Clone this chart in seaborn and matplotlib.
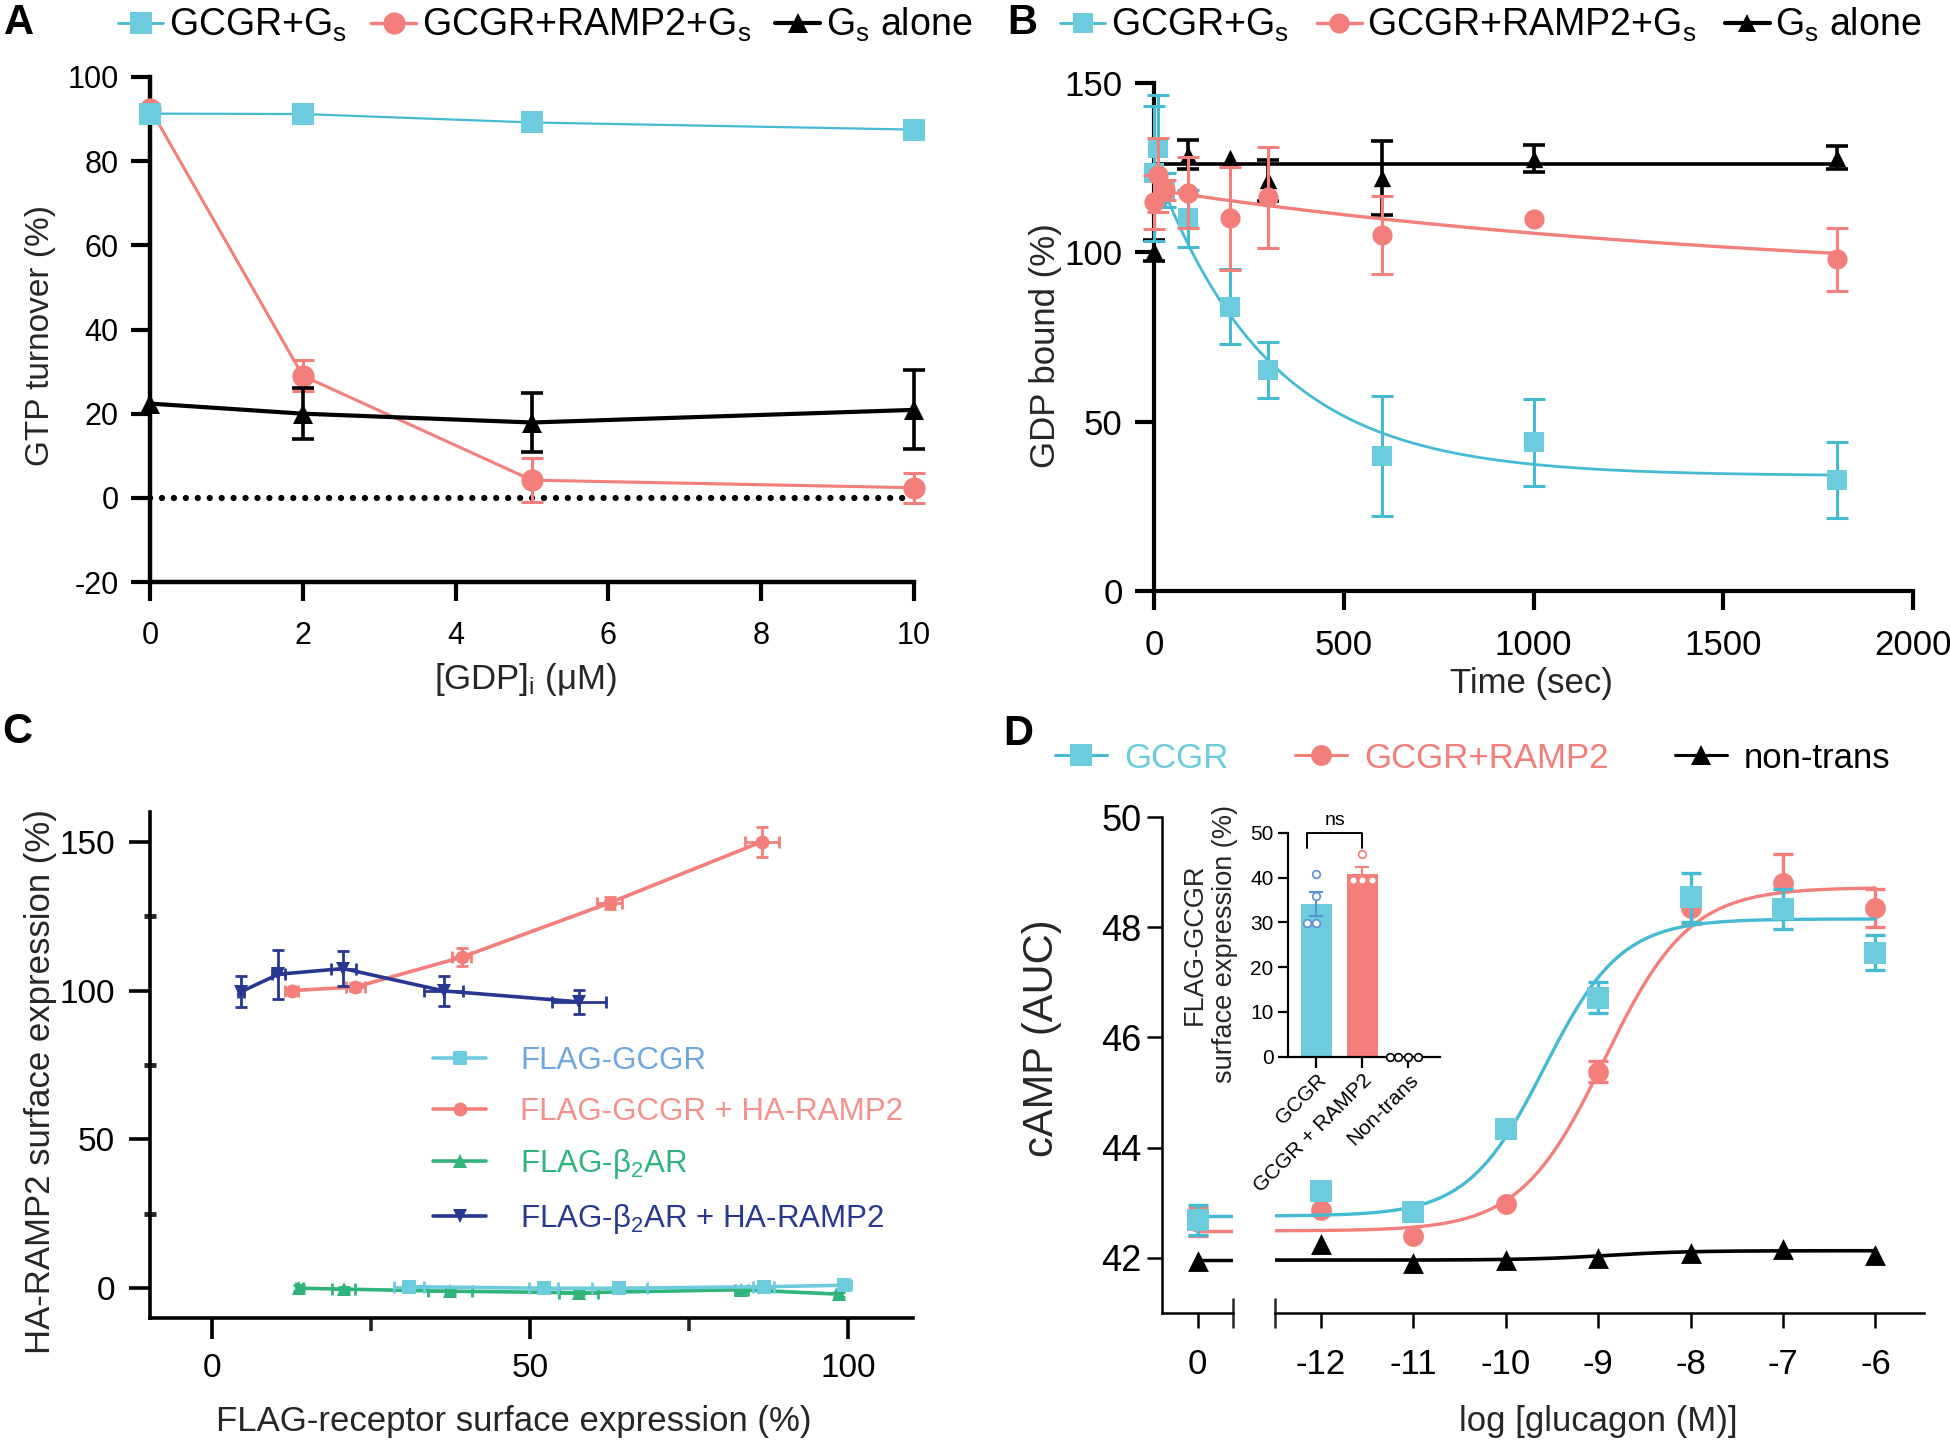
import numpy as np
import pandas as pd
import matplotlib
matplotlib.use('Agg')
import matplotlib.pyplot as plt
from matplotlib.lines import Line2D
from matplotlib import font_manager
import seaborn as sns

# ---------------- data ----------------
# Panel A : GTP turnover vs [GDP]i
gdp_conc = [0, 2, 5, 10]
a_gcgr = [91.3, 91.2, 89.2, 87.5]
a_ramp2 = [92.5, 29.0, 4.2, 2.4]
a_ramp2_err = [0.0, 3.7, 5.3, 3.6]
a_gs = [22.4, 20.0, 17.9, 20.9]
a_gs_err = [0.0, 6.0, 7.0, 9.4]

# Panel B : GDP bound vs time
b_time = [0, 10, 30, 90, 200, 300, 600, 1000, 1800]
b_gcgr = [123.3, 130.7, 118.4, 110.0, 84.0, 65.2, 39.8, 43.9, 32.8]
b_gcgr_err = [20.0, 15.7, 5.0, 8.3, 11.0, 8.2, 17.7, 12.9, 11.1]
b_ramp2 = [114.9, 122.8, 118.4, 117.6, 110.0, 116.2, 105.0, 109.8, 97.9]
b_ramp2_err = [8.0, 11.0, 3.0, 10.5, 15.3, 15.0, 11.5, 0.0, 9.2]
b_time_gs = [0, 90, 200, 300, 600, 1000, 1800]
b_gs = [100.5, 128.8, 127.8, 121.3, 122.0, 127.6, 128.0]
b_gs_err = [3.0, 4.3, 0.0, 6.0, 11.0, 4.0, 3.5]
# one-phase decay fits (Y0, plateau, k)
b_fit_gcgr = (126.0, 34.0, 0.0033)
b_fit_ramp2 = (118.5, 90.0, 0.0006)
b_fit_gs = (126.0, 126.0, 0.0)

# Panel C : HA-RAMP2 vs FLAG-receptor surface expression
c_gcgr_x = [30.9, 52.1, 64.0, 86.7, 99.4]
c_gcgr_y = [0.5, 0.0, 0.0, 0.5, 1.0]
c_gcgr_xerr = [2.4, 2.3, 4.3, 1.7, 1.0]
c_gcgr_yerr = [0.8, 0.8, 0.8, 0.8, 0.8]
c_ramp2_x = [12.5, 22.5, 39.2, 62.5, 86.4]
c_ramp2_y = [100.0, 101.2, 111.2, 129.5, 150.0]
c_ramp2_xerr = [1.0, 1.5, 1.5, 2.0, 2.7]
c_ramp2_yerr = [1.0, 1.5, 3.0, 2.0, 5.0]
c_b2ar_x = [13.7, 20.7, 37.4, 57.6, 83.2, 98.6]
c_b2ar_y = [0.0, -0.3, -1.0, -1.5, -0.5, -2.0]
c_b2ar_xerr = [0.5, 1.8, 3.5, 3.1, 1.0, 0.5]
c_b2ar_yerr = [1.0, 0.8, 0.8, 0.8, 0.8, 0.8]
c_b2ramp_x = [4.5, 10.4, 20.6, 36.4, 57.7]
c_b2ramp_y = [99.6, 105.5, 107.4, 99.9, 96.2]
c_b2ramp_xerr = [0.5, 1.0, 2.0, 3.1, 4.2]
c_b2ramp_yerr = [5.2, 8.3, 5.9, 5.0, 3.9]

# Panel D : cAMP vs log[glucagon]
d_logx = [-12, -11, -10, -9, -8, -7, -6]
d_gcgr = [43.22, 42.84, 44.33, 46.72, 48.54, 48.33, 47.54]
d_gcgr_err = [0.0, 0.0, 0.0, 0.28, 0.44, 0.36, 0.32]
d_ramp2 = [42.86, 42.40, 42.97, 45.38, 48.35, 48.81, 48.35]
d_ramp2_err = [0.0, 0.0, 0.0, 0.19, 0.30, 0.52, 0.35]
d_nontrans = [42.25, 41.90, 41.96, 42.00, 42.08, 42.16, 42.06]
d_zero_x = [0]
d_zero_gcgr = [42.69]
d_zero_gcgr_err = [0.27]
d_zero_ramp2 = [42.65]
d_zero_ramp2_err = [0.25]
d_zero_nontrans = [41.94]
# 4PL fits (bottom, top, logEC50, hill)
d_fit_gcgr = (42.76, 48.15, -9.58, 1.05)
d_fit_ramp2 = (42.49, 48.72, -8.93, 0.95)
d_fit_nontrans = (41.96, 42.13, -8.9, 1.0)

# Panel D inset : FLAG-GCGR surface expression
inset_groups = ['GCGR', 'GCGR + RAMP2', 'Non-trans']
inset_gcgr = [40.9, 36.0, 29.8, 29.8]
inset_ramp2 = [45.3, 39.4, 39.4, 39.4]
inset_nontrans = [0.0, 0.0, 0.0, 0.0]

# ---------------- style ----------------
W, H, DPI = 1950, 1448, 100
sns.set_theme(style='ticks')
avail = {f.name for f in font_manager.fontManager.ttflist}
BASE = 'Liberation Sans' if 'Liberation Sans' in avail else 'DejaVu Sans'
NARROW = 'Liberation Sans Narrow' if 'Liberation Sans Narrow' in avail else BASE
plt.rcParams['font.family'] = [BASE, 'DejaVu Sans']
plt.rcParams['mathtext.default'] = 'regular'
plt.rcParams['axes.unicode_minus'] = False
plt.rcParams['text.color'] = 'black'

CYAN = '#6ccbdc'
CYAN_LINE = '#45bbd2'
RED = '#f37e7a'
GREEN = '#2fb57c'
NAVY = '#283891'
BLUE_TXT = '#6fa6de'
RED_TXT = '#f4918d'
INSET_BLUE = '#5b8fd8'

fig = plt.figure(figsize=(W / DPI, H / DPI), dpi=DPI)
fig.patch.set_facecolor('white')


def add_ax(l, t, r, b):
    return fig.add_axes([l / W, 1 - b / H, (r - l) / W, (b - t) / H])


def style(ax, lw, tlen, tw, padx, pady):
    for s in ['top', 'right']:
        ax.spines[s].set_visible(False)
    for s in ['left', 'bottom']:
        ax.spines[s].set_linewidth(lw)
        ax.spines[s].set_color('black')
    ax.tick_params(which='major', direction='out', length=tlen, width=tw, colors='black')
    ax.tick_params(axis='x', pad=padx)
    ax.tick_params(axis='y', pad=pady)
    ax.set_facecolor('none')
    ax.grid(False)


def errbars(ax, x, y, yerr=None, xerr=None, color='k', lw=2, capsize=8, z=2):
    x = np.asarray(x, float); y = np.asarray(y, float)
    ye = None if yerr is None else np.asarray(yerr, float)
    xe = None if xerr is None else np.asarray(xerr, float)
    if ye is not None:
        m = ye > 0
        ax.errorbar(x[m], y[m], yerr=ye[m], fmt='none', ecolor=color, elinewidth=lw,
                    capsize=capsize, capthick=lw, zorder=z, clip_on=False)
    if xe is not None:
        m = xe > 0
        ax.errorbar(x[m], y[m], xerr=xe[m], fmt='none', ecolor=color, elinewidth=lw,
                    capsize=capsize, capthick=lw, zorder=z, clip_on=False)


def one_phase(t, y0, plateau, k):
    t = np.asarray(t, float)
    return plateau + (y0 - plateau) * np.exp(-k * t)


def four_pl(x, bottom, top, logec50, hill):
    x = np.asarray(x, float)
    return bottom + (top - bottom) / (1 + 10 ** ((logec50 - x) * hill))


# ================= Panel A =================
axA = add_ax(150, 77, 914, 582)
axA.set_xlim(0, 10)
axA.set_ylim(-20, 100)
axA.axhline(0, color='black', lw=4.5, ls=(0, (0.01, 1.9)), dash_capstyle='round', zorder=1)
sns.lineplot(x=gdp_conc, y=a_ramp2, ax=axA, color=RED, lw=2.2, marker='o', markersize=16,
             markeredgewidth=0, clip_on=False, zorder=3, legend=False)
errbars(axA, gdp_conc, a_ramp2, a_ramp2_err, color=RED, lw=2.2, capsize=8, z=3)
sns.lineplot(x=gdp_conc, y=a_gs, ax=axA, color='black', lw=3, marker='^', markersize=14,
             markeredgewidth=0, clip_on=False, zorder=4, legend=False)
errbars(axA, gdp_conc, a_gs, a_gs_err, color='black', lw=2.6, capsize=8, z=4)
sns.lineplot(x=gdp_conc, y=a_gcgr, ax=axA, color=CYAN_LINE, lw=1.6, marker='s', markersize=16,
             markerfacecolor=CYAN, markeredgewidth=0, clip_on=False, zorder=5, legend=False)
style(axA, 3.2, 14, 3, 14, 8.6)
axA.set_xticks([0, 2, 4, 6, 8, 10], ['0', '2', '4', '6', '8', '10'], fontsize=22, family=NARROW)
axA.set_yticks([-20, 0, 20, 40, 60, 80, 100], ['-20', '0', '20', '40', '60', '80', '100'],
               fontsize=22, family=NARROW)
axA.set_xlabel('[GDP]$_\\mathregular{i}$ (μM)', fontsize=25, va='center')
axA.xaxis.set_label_coords(525 / W, 1 - 680 / H, transform=fig.transFigure)
axA.set_ylabel('GTP turnover (%)', fontsize=24, va='center')
axA.yaxis.set_label_coords(41 / W, 1 - 336 / H, transform=fig.transFigure)

hA = [Line2D([], [], color=CYAN_LINE, lw=2, marker='s', ms=16, mfc=CYAN, mew=0),
      Line2D([], [], color=RED, lw=2.5, marker='o', ms=16, mew=0),
      Line2D([], [], color='black', lw=3, marker='^', ms=14, mew=0)]
labA = ['GCGR+G$_\\mathregular{s}$', 'GCGR+RAMP2+G$_\\mathregular{s}$', 'G$_\\mathregular{s}$ alone']
fig.legend(hA, labA, loc='center left', bbox_to_anchor=(118 / W, 1 - 25 / H), ncol=3, frameon=False,
           fontsize=27, handlelength=1.2, handletextpad=0.15, columnspacing=0.65, borderpad=0,
           borderaxespad=0)

# ================= Panel B =================
axB = add_ax(1154, 83, 1913, 591)
axB.set_xlim(0, 2000)
axB.set_ylim(0, 150)
tB = np.linspace(0, max(b_time), 400)
sns.lineplot(x=tB, y=one_phase(tB, *b_fit_gs), ax=axB, color='black', lw=2.6, zorder=2, legend=False)
sns.lineplot(x=tB, y=one_phase(tB, *b_fit_gcgr), ax=axB, color=CYAN_LINE, lw=2, zorder=3, legend=False)
sns.lineplot(x=tB, y=one_phase(tB, *b_fit_ramp2), ax=axB, color=RED, lw=2.4, zorder=4, legend=False)
errbars(axB, b_time_gs, b_gs, b_gs_err, color='black', lw=2.6, capsize=8, z=2)
sns.scatterplot(x=b_time_gs, y=b_gs, ax=axB, marker='^', s=12.5 ** 2, color='black', linewidth=0,
                clip_on=False, zorder=2.5, legend=False)
errbars(axB, b_time, b_gcgr, b_gcgr_err, color=CYAN_LINE, lw=2.2, capsize=8, z=3)
sns.scatterplot(x=b_time, y=b_gcgr, ax=axB, marker='s', s=15 ** 2, color=CYAN, linewidth=0,
                clip_on=False, zorder=3.5, legend=False)
errbars(axB, b_time, b_ramp2, b_ramp2_err, color=RED, lw=2.2, capsize=8, z=4)
sns.scatterplot(x=b_time, y=b_ramp2, ax=axB, marker='o', s=14.5 ** 2, color=RED, linewidth=0,
                clip_on=False, zorder=4.5, legend=False)
style(axB, 3, 14, 3, 13.7, 8.6)
axB.set_xticks([0, 500, 1000, 1500, 2000], ['0', '500', '1000', '1500', '2000'], fontsize=25)
axB.set_yticks([0, 50, 100, 150], ['0', '50', '100', '150'], fontsize=25)
axB.set_xlabel('Time (sec)', fontsize=25, va='center')
axB.xaxis.set_label_coords(1531 / W, 1 - 684 / H, transform=fig.transFigure)
axB.set_ylabel('GDP bound (%)', fontsize=25, va='center')
axB.yaxis.set_label_coords(1045 / W, 1 - 346 / H, transform=fig.transFigure)

hB = [Line2D([], [], color=CYAN_LINE, lw=2, marker='s', ms=15, mfc=CYAN, mew=0),
      Line2D([], [], color=RED, lw=2.5, marker='o', ms=14.5, mew=0),
      Line2D([], [], color='black', lw=3, marker='^', ms=13, mew=0)]
fig.legend(hB, labA, loc='center left', bbox_to_anchor=(1060 / W, 1 - 25 / H), ncol=3, frameon=False,
           fontsize=27, handlelength=1.2, handletextpad=0.15, columnspacing=0.75, borderpad=0,
           borderaxespad=0)

# ================= Panel C =================
axC = add_ax(150, 812, 913, 1318)
axC.set_xlim(-9.8, 110.2)
axC.set_ylim(-10, 160)
c_series = [
    (c_b2ar_x, c_b2ar_y, c_b2ar_xerr, c_b2ar_yerr, GREEN, '^', 3),
    (c_gcgr_x, c_gcgr_y, c_gcgr_xerr, c_gcgr_yerr, CYAN, 's', 4),
    (c_ramp2_x, c_ramp2_y, c_ramp2_xerr, c_ramp2_yerr, RED, 'o', 5),
    (c_b2ramp_x, c_b2ramp_y, c_b2ramp_xerr, c_b2ramp_yerr, NAVY, 'v', 6),
]
for xs, ys, xe, ye, col, mk, z in c_series:
    sns.lineplot(x=xs, y=ys, ax=axC, color=col, lw=2.6, marker=mk, markersize=10,
                 markeredgewidth=0, clip_on=False, zorder=z, legend=False, sort=False)
    errbars(axC, xs, ys, yerr=ye, xerr=xe, color=col, lw=2, capsize=4, z=z)
style(axC, 2.6, 15, 2.6, 10, 10)
axC.set_xticks([0, 50, 100], ['0', '50', '100'], fontsize=24, family=NARROW)
axC.set_xticks([25, 75], minor=True)
axC.set_yticks([0, 50, 100, 150], ['0', '50', '100', '150'], fontsize=24, family=NARROW)
axC.set_yticks([25, 75, 125], minor=True)
axC.tick_params(axis='x', which='minor', direction='out', length=9, width=2.6)
axC.tick_params(axis='y', which='minor', direction='inout', length=9, width=3.5)
axC.set_xlabel('FLAG-receptor surface expression (%)', fontsize=25, va='center', family=NARROW)
axC.xaxis.set_label_coords(514 / W, 1 - 1421 / H, transform=fig.transFigure)
axC.set_ylabel('HA-RAMP2 surface expression (%)', fontsize=25, va='center')
axC.yaxis.set_label_coords(41 / W, 1 - 1082 / H, transform=fig.transFigure)

hC = [Line2D([], [], color=CYAN, lw=2.6, marker='s', ms=10, mew=0),
      Line2D([], [], color=RED, lw=2.6, marker='o', ms=10, mew=0),
      Line2D([], [], color=GREEN, lw=2.6, marker='^', ms=10, mew=0),
      Line2D([], [], color=NAVY, lw=2.6, marker='v', ms=10, mew=0)]
labC = ['FLAG-GCGR', 'FLAG-GCGR + HA-RAMP2', 'FLAG-β$_\\mathregular{2}$AR',
        'FLAG-β$_\\mathregular{2}$AR + HA-RAMP2']
legC = axC.legend(hC, labC, loc='upper left', bbox_to_anchor=(433 / W, 1 - 1046 / H),
                  bbox_transform=fig.transFigure, frameon=False, fontsize=22.5, handlelength=1.7,
                  handletextpad=1.1, labelspacing=0.66, borderpad=0, borderaxespad=0)
for t, c in zip(legC.get_texts(), [BLUE_TXT, RED_TXT, GREEN, NAVY]):
    t.set_color(c)

# ================= Panel D =================
axD0 = add_ax(1162, 817, 1233, 1313)
axD = add_ax(1274.5, 817, 1923.5, 1313)
for ax in (axD0, axD):
    ax.set_ylim(41.0, 50.0)
axD0.set_xlim(-0.385, 0.385)
axD.set_xlim(-12.5, -5.48)

# right (log dose) part
xfit = np.linspace(-12.5, max(d_logx), 400)
sns.lineplot(x=xfit, y=four_pl(xfit, *d_fit_ramp2), ax=axD, color=RED, lw=2.4, zorder=2, legend=False)
sns.lineplot(x=xfit, y=four_pl(xfit, *d_fit_gcgr), ax=axD, color=CYAN_LINE, lw=2.4, zorder=3, legend=False)
sns.lineplot(x=xfit, y=four_pl(xfit, *d_fit_nontrans), ax=axD, color='black', lw=2.6, zorder=4, legend=False)
errbars(axD, d_logx, d_ramp2, d_ramp2_err, color=RED, lw=2.4, capsize=7, z=2)
sns.scatterplot(x=d_logx, y=d_ramp2, ax=axD, marker='o', s=15 ** 2, color=RED, linewidth=0,
                clip_on=False, zorder=2.5, legend=False)
errbars(axD, d_logx, d_gcgr, d_gcgr_err, color=CYAN_LINE, lw=2.4, capsize=7, z=3)
sns.scatterplot(x=d_logx, y=d_gcgr, ax=axD, marker='s', s=16 ** 2, color=CYAN, linewidth=0,
                clip_on=False, zorder=3.5, legend=False)
sns.scatterplot(x=d_logx, y=d_nontrans, ax=axD, marker='^', s=15 ** 2, color='black', linewidth=0,
                clip_on=False, zorder=4.5, legend=False)

# left (zero dose) part: fitted bottom plateaus
xz = np.array([d_zero_x[0], axD0.get_xlim()[1]])
for fitp, col, z in [(d_fit_ramp2, RED, 2), (d_fit_gcgr, CYAN_LINE, 3), (d_fit_nontrans, 'black', 4)]:
    sns.lineplot(x=xz, y=np.full(2, fitp[0]), ax=axD0, color=col, lw=2.5, zorder=z, legend=False)
errbars(axD0, d_zero_x, d_zero_ramp2, d_zero_ramp2_err, color=RED, lw=2.4, capsize=7, z=2)
sns.scatterplot(x=d_zero_x, y=d_zero_ramp2, ax=axD0, marker='o', s=15 ** 2, color=RED, linewidth=0,
                clip_on=False, zorder=2.5, legend=False)
errbars(axD0, d_zero_x, d_zero_gcgr, d_zero_gcgr_err, color=CYAN_LINE, lw=2.4, capsize=7, z=3)
sns.scatterplot(x=d_zero_x, y=d_zero_gcgr, ax=axD0, marker='s', s=16 ** 2, color=CYAN, linewidth=0,
                clip_on=False, zorder=3.5, legend=False)
sns.scatterplot(x=d_zero_x, y=d_zero_nontrans, ax=axD0, marker='^', s=15 ** 2, color='black',
                linewidth=0, clip_on=False, zorder=4.5, legend=False)

style(axD0, 1.8, 11, 1.8, 14, 4)
style(axD, 1.8, 11, 1.8, 14, 4)
axD.spines['left'].set_visible(False)
axD.set_yticks([])
axD0.set_yticks([42, 44, 46, 48, 50], ['42', '44', '46', '48', '50'], fontsize=26)
axD0.set_xticks([0], ['0'], fontsize=25)
axD0.set_xticks([0.385], minor=True)
axD0.tick_params(axis='x', which='minor', direction='inout', length=22, width=1.8)
axD.set_xticks(d_logx, [str(v) for v in d_logx], fontsize=25, family=NARROW)
axD.set_xticks([-12.5], minor=True)
axD.tick_params(axis='x', which='minor', direction='inout', length=22, width=1.8)
axD0.set_ylabel('cAMP (AUC)', fontsize=30, va='center')
axD0.yaxis.set_label_coords(1042 / W, 1 - 1038 / H, transform=fig.transFigure)
axD.set_xlabel('log [glucagon (M)]', fontsize=25, va='center', family=NARROW)
axD.xaxis.set_label_coords(1598 / W, 1 - 1421 / H, transform=fig.transFigure)

hD = [Line2D([], [], color=CYAN_LINE, lw=2.2, marker='s', ms=16, mfc=CYAN, mew=0),
      Line2D([], [], color=RED, lw=2.2, marker='o', ms=15, mew=0),
      Line2D([], [], color='black', lw=2.2, marker='^', ms=15, mew=0)]
legD = fig.legend(hD, ['GCGR', 'GCGR+RAMP2', 'non-trans'], loc='center left',
                  bbox_to_anchor=(1055 / W, 1 - 758 / H), ncol=3, frameon=False, fontsize=25,
                  handlelength=1.5, handletextpad=0.5, columnspacing=1.9, borderpad=0, borderaxespad=0)
for t, c in zip(legD.get_texts(), [CYAN, RED, 'black']):
    t.set_color(c)

# ---------------- inset ----------------
axIn = add_ax(1287.6, 832.8, 1440.3, 1056.8)
inset_df = pd.DataFrame({
    'group': np.repeat(inset_groups, [len(inset_gcgr), len(inset_ramp2), len(inset_nontrans)]),
    'value': inset_gcgr + inset_ramp2 + inset_nontrans,
})
sns.barplot(data=inset_df, x='group', y='value', order=inset_groups, hue='group',
            hue_order=inset_groups, palette=[CYAN, RED, 'white'], errorbar=None, width=0.67,
            saturation=1, linewidth=0, ax=axIn, legend=False)
stats = inset_df.groupby('group', sort=False)['value'].agg(['mean', 'sem'])
for i, (g, col) in enumerate(zip(inset_groups, [INSET_BLUE, RED, 'black'])):
    mu, se = stats.loc[g, 'mean'], stats.loc[g, 'sem']
    if se > 0:
        axIn.errorbar(i, mu, yerr=se, fmt='none', ecolor=col, elinewidth=1.5, capsize=5,
                      capthick=1.5, zorder=4)
for g, col in zip(inset_groups, [INSET_BLUE, RED, 'black']):
    sub = inset_df[inset_df['group'] == g]
    sns.swarmplot(data=sub, x='group', y='value', order=inset_groups, color='white', edgecolor=col,
                  linewidth=1.2, size=5.5, ax=axIn, zorder=5, clip_on=False)
axIn.set_xlim(-0.63, 2.70)
axIn.set_ylim(0, 50)
style(axIn, 1.6, 7, 1.6, 2, 3)
axIn.tick_params(axis='x', length=8)
axIn.set_xticks([0, 1, 2], inset_groups, rotation=45, ha='right', rotation_mode='anchor',
                fontsize=15, family=NARROW)
axIn.set_yticks([0, 10, 20, 30, 40, 50], ['0', '10', '20', '30', '40', '50'], fontsize=15,
                family=NARROW)
axIn.set_xlabel('')
axIn.set_ylabel('FLAG-GCGR\nsurface expression (%)', fontsize=19.5, va='center', linespacing=1.2)
axIn.yaxis.set_label_coords(1210 / W, 1 - 944 / H, transform=fig.transFigure)
# significance bracket between GCGR and GCGR + RAMP2
br_y, br_drop = 50.0, 3.3
axIn.plot([-0.2, -0.2, 1.0, 1.0], [br_y - br_drop, br_y, br_y, br_y - br_drop], color='black',
          lw=1.4, clip_on=False)
axIn.text(0.4, br_y + 2.8, 'ns', ha='center', va='center', fontsize=14, family=NARROW)

# ---------------- panel letters ----------------
for lab, (x, y) in {'A': (19, 23), 'B': (1022, 23), 'C': (17, 732), 'D': (1018, 734)}.items():
    fig.text(x / W, 1 - y / H, lab, fontsize=30, fontweight='bold', ha='center', va='center')

fig.savefig('out.png', dpi=DPI, facecolor='white')
